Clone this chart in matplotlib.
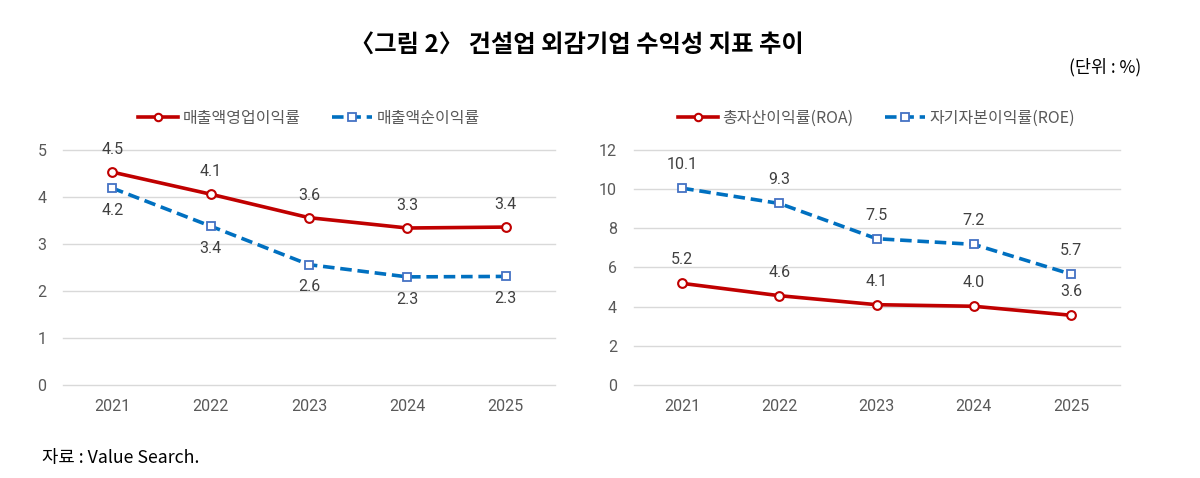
import matplotlib
matplotlib.use("Agg")
import matplotlib.pyplot as plt

plt.rcParams['font.family'] = ['Noto Sans CJK KR', 'DejaVu Sans']

years = ['2021', '2022', '2023', '2024', '2025']
op_margin = [4.53, 4.06, 3.56, 3.34, 3.36]      # 매출액영업이익률
net_margin = [4.19, 3.38, 2.56, 2.30, 2.31]     # 매출액순이익률
roa = [5.19, 4.56, 4.10, 4.02, 3.56]            # 총자산이익률(ROA)
roe = [10.05, 9.27, 7.47, 7.18, 5.66]           # 자기자본이익률(ROE)

left_labels = ['매출액영업이익률', '매출액순이익률']
right_labels = ['총자산이익률(ROA)', '자기자본이익률(ROE)']
left_yticks = [0, 1, 2, 3, 4, 5]
right_yticks = [0, 2, 4, 6, 8, 10, 12]

RED = '#C00000'
BLUE = '#0070C0'
BLUE_MK = '#4472C4'
TICK = '#595959'
LBL = '#404040'
GRID = '#D9D9D9'
NUMFONT = ['Roboto', 'Noto Sans CJK KR']

fig = plt.figure(figsize=(12, 4.78), dpi=100)
axL = fig.add_axes([0.0525, 0.1946, 0.410, 0.4916])
axR = fig.add_axes([0.528, 0.1946, 0.405, 0.4916])


def style(ax, yticks):
    ax.set_xlim(-0.5, len(years) - 0.5)
    ax.set_ylim(yticks[0], yticks[-1])
    ax.set_yticks(yticks)
    ax.set_xticks(range(len(years)))
    ax.set_xticklabels(years)
    for s in ax.spines.values():
        s.set_visible(False)
    ax.grid(axis='y', color=GRID, linewidth=1.0)
    ax.set_axisbelow(True)
    ax.tick_params(axis='both', length=0, colors=TICK, labelsize=11.5)
    ax.tick_params(axis='x', pad=10)
    ax.tick_params(axis='y', pad=12)
    for t in ax.get_xticklabels() + ax.get_yticklabels():
        t.set_family(NUMFONT)
        t.set_color(TICK)
    for g in ax.get_ygridlines():
        g.set_clip_on(False)


def plot_red(ax, vals, label):
    ax.plot(range(len(vals)), vals, color=RED, lw=2.6, marker='o', ms=6.3,
            mfc='white', mec=RED, mew=1.5, label=label, zorder=3, clip_on=False)


def plot_blue(ax, vals, label):
    ax.plot(range(len(vals)), vals, color=BLUE, lw=2.6, ls=(0, (3.2, 1.6)),
            marker='s', ms=6.3, mfc='white', mec=BLUE_MK, mew=1.3,
            label=label, zorder=4, clip_on=False)


def annotate(ax, vals, dy):
    for i, v in enumerate(vals):
        ax.annotate(f'{v:.1f}', (i, v), xytext=(0, dy), textcoords='offset points',
                    ha='center', va='center', fontsize=11.5, color=LBL,
                    family=NUMFONT)


style(axL, left_yticks)
plot_red(axL, op_margin, left_labels[0])
plot_blue(axL, net_margin, left_labels[1])
annotate(axL, op_margin, 16)
annotate(axL, net_margin, -16)

style(axR, right_yticks)
plot_red(axR, roa, right_labels[0])
plot_blue(axR, roe, right_labels[1])
annotate(axR, roa, 17)
annotate(axR, roe, 17)

for ax in (axL, axR):
    leg = ax.legend(loc='center', bbox_to_anchor=(0.5, 1.135), ncol=2,
                    frameon=False, fontsize=11.5, handlelength=2.5,
                    columnspacing=2.0, handletextpad=0.25, markerscale=0.85)
    for t in leg.get_texts():
        t.set_color(TICK)

fig.text(0.481, 0.906, '〈그림 2〉 건설업 외감기업 수익성 지표 추이', ha='center', va='center',
         fontsize=17.5, fontweight='bold', color='black')
fig.text(0.951, 0.860, '(단위 : %)', ha='right', va='center', fontsize=12.5, color='black')
fig.text(0.035, 0.042, '자료 : Value Search.', ha='left', va='center', fontsize=12.8, color='black')

fig.savefig('out.png', dpi=100, facecolor='white')
